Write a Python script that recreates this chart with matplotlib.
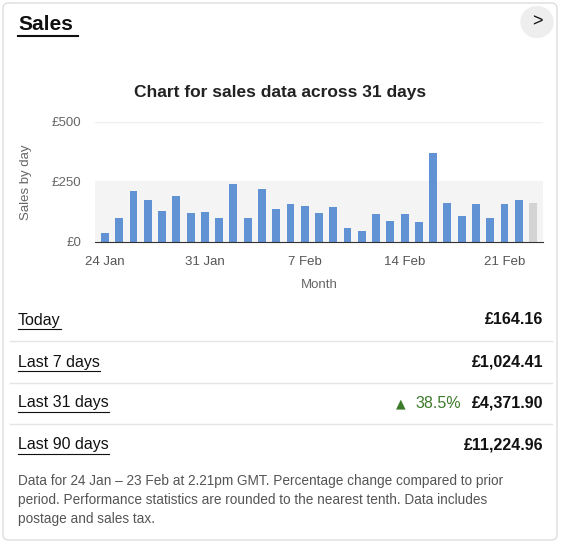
import matplotlib
matplotlib.use("Agg")
import matplotlib.pyplot as plt
from matplotlib.patches import FancyBboxPatch, Circle
from matplotlib.lines import Line2D

plt.rcParams['font.family'] = ['Liberation Sans', 'DejaVu Sans']

days = list(range(1, 32))
sales = [37, 102, 214, 173, 130, 192, 120, 124, 102, 242, 102, 220, 137, 157, 149, 120,
         145, 57, 47, 116, 88, 116, 83, 369, 163, 108, 157, 98, 157, 177, 164]
tick_pos = [1, 8, 15, 22, 29]
tick_labels = ["24 Jan", "31 Jan", "7 Feb", "14 Feb", "21 Feb"]
rows = ["Today", "Last 7 days", "Last 31 days", "Last 90 days"]
row_values = ["£164.16", "£1,024.41", "£4,371.90", "£11,224.96"]

W, H = 565, 544
fig = plt.figure(figsize=(W/100, H/100), dpi=100)
fig.patch.set_facecolor("white")
def fx(x): return x / W
def fy(y): return 1 - y / H

card = FancyBboxPatch((fx(3), fy(540)), fx(554), fy(3) - fy(540),
               boxstyle="round,pad=0,rounding_size=0.01", transform=fig.transFigure,
               facecolor="none", edgecolor="#dddddd", lw=1)
card.set_zorder(-5)
fig.add_artist(card)
t = fig.text(fx(18), fy(25), "Sales", fontsize=15, fontweight="bold", va="center", color="#111")
fig.add_artist(Line2D([fx(18), fx(78)], [fy(36), fy(36)], color="#111", lw=1.5))
fig.add_artist(Circle((fx(537), fy(22)), 16 / W, transform=fig.transFigure, color="#eeeeee"))
fig.text(fx(537), fy(22), ">", fontsize=13, ha="center", va="center", color="#111")

fig.text(fx(280), fy(92), "Chart for sales data across 31 days", fontsize=12.5, fontweight="bold",
         ha="center", va="center", color="#222")

ax = fig.add_axes([fx(95), fy(242), fx(543) - fx(95), fy(122) - fy(242)])
ax.set_facecolor("none")
ax.axhspan(0, 255, color="#f4f4f4", zorder=0)
ax.axhline(500, color="#eeeeee", lw=1, zorder=0)
colors = ["#6192d3"] * 30 + ["#d3d3d3"]
ax.bar(days, sales, width=0.55, color=colors, zorder=2)
ax.set_xlim(0.3, 31.7)
ax.set_ylim(0, 500)
for s in ["top", "right", "left"]:
    ax.spines[s].set_visible(False)
ax.spines["bottom"].set_color("#333")
ax.set_yticks([0, 250, 500])
ax.set_yticklabels(["£0", "£250", "£500"], fontsize=9.5, color="#666")
ax.set_xticks(tick_pos)
ax.set_xticklabels(tick_labels, fontsize=9.5, color="#555")
ax.tick_params(length=0, pad=10)
ax.set_ylabel("Sales by day", fontsize=9.5, color="#666")
ax.yaxis.set_label_coords(-0.14, 0.5)
ax.set_xlabel("Month", fontsize=9.5, color="#666", labelpad=8)

renderer = fig.canvas.get_renderer()
ys = [320, 362, 403, 445]
for i, (lab, val) in enumerate(zip(rows, row_values)):
    tt = fig.text(fx(18), fy(ys[i]), lab, fontsize=11.5, va="center", color="#111")
    fig.text(fx(543), fy(ys[i]), val, fontsize=11.5, fontweight="bold", va="center", ha="right", color="#111")
    bb = tt.get_window_extent(renderer)
    fig.add_artist(Line2D([fx(18), fx(18 + bb.width)], [fy(ys[i] + 9)] * 2, color="#111", lw=0.8))
    if i < 3:
        fig.add_artist(Line2D([fx(10), fx(552)], [fy(ys[i] + 21)] * 2, color="#e5e5e5", lw=1))
fig.text(fx(461), fy(403), "38.5%", fontsize=11.5, va="center", ha="right", color="#3d7a2a")
fig.text(fx(401), fy(404), "▲", fontsize=9, va="center", ha="center", color="#3d7a2a",
         family=['DejaVu Sans'])

foot = ("Data for 24 Jan – 23 Feb at 2.21pm GMT. Percentage change compared to prior\n"
        "period. Performance statistics are rounded to the nearest tenth. Data includes\n"
        "postage and sales tax.")
fig.text(fx(18), fy(474), foot, fontsize=9.8, va="top", color="#555", linespacing=1.45)

fig.savefig("out.png", dpi=100)
